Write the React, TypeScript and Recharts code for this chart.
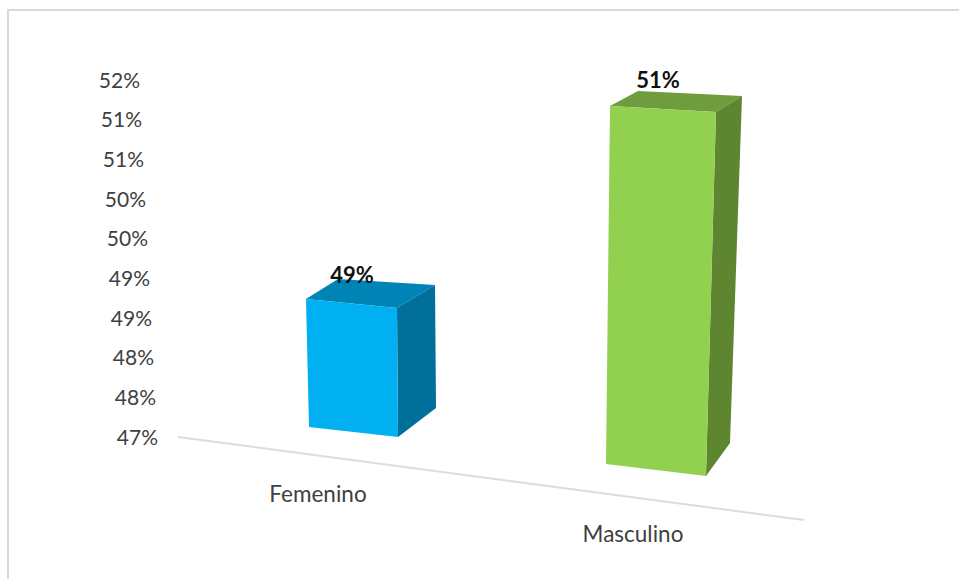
import { Bar, BarChart, LabelList, XAxis, YAxis } from "recharts";

const categories = ["Femenino", "Masculino"];
const percentages = [48.6, 51.45];
const yTicks = [47, 47.5, 48, 48.5, 49, 49.5, 50, 50.5, 51, 51.5];
const valueLabels = ["49%", "51%"];

const data = categories.map((name, i) => ({ name, value: percentages[i], label: valueLabels[i] }));

const FONT = "Lato, sans-serif";
const TEXT = "#404040";

// 3D look: how far each corner is pushed from the flat bar Recharts gives us
const looks = [
  {
    front: "#00b0f0",
    top: "#0084b5",
    side: "#006f9a",
    tl: [1, -11],
    tr: [-4, -2],
    br: [-3, 0],
    bl: [4, -10],
    backTl: [33, -31],
    backTr: [34, -25],
    backBr: [35, -29],
    labelDx: -1,
    labelDy: -36,
    tickDx: -35,
    tickDy: 0,
  },
  {
    front: "#92d050",
    top: "#6f9c3d",
    side: "#5e8530",
    tl: [3, 22],
    tr: [13, 28],
    br: [3, 39],
    bl: [-1, 27],
    backTl: [31, 7],
    backTr: [39, 12],
    backBr: [27, 6],
    labelDx: 3,
    labelDy: -4,
    tickDx: -22,
    tickDy: 40,
  },
];

function Box3D(props: any) {
  const { x, y, width, height, index } = props;
  const look = looks[index];
  const left = x;
  const right = x + width;
  const bottom = y + height;
  const pt = (bx: number, by: number, d: number[]) => `${bx + d[0]},${by + d[1]}`;
  const tl = pt(left, y, look.tl);
  const tr = pt(right, y, look.tr);
  const br = pt(right, bottom, look.br);
  const bl = pt(left, bottom, look.bl);
  const backTl = pt(left, y, look.backTl);
  const backTr = pt(right, y, look.backTr);
  const backBr = pt(right, bottom, look.backBr);
  return (
    <g>
      <polygon points={`${tl} ${tr} ${backTr} ${backTl}`} fill={look.top} />
      <polygon points={`${tr} ${backTr} ${backBr} ${br}`} fill={look.side} />
      <polygon points={`${tl} ${tr} ${br} ${bl}`} fill={look.front} />
    </g>
  );
}

function BarValue(props: any) {
  const { x, y, width, index, value } = props;
  const look = looks[index];
  return (
    <text
      x={x + width / 2 + look.labelDx}
      y={y + look.labelDy}
      textAnchor="middle"
      dominantBaseline="central"
      fontFamily={FONT}
      fontSize={22}
      fontWeight={700}
      fill="#111111"
    >
      {value}
    </text>
  );
}

function PercentTick(props: any) {
  const { y, payload } = props;
  // labels lean with the floor of the chart
  const x = 158 - ((437 - y) * 18) / 357;
  return (
    <text
      x={x}
      y={y - 1}
      textAnchor="end"
      dominantBaseline="central"
      fontFamily={FONT}
      fontSize={21}
      fill={TEXT}
    >
      {Math.round(payload.value)}%
    </text>
  );
}

function NameTick(props: any) {
  const { x, y, payload, index } = props;
  const look = looks[index];
  return (
    <text
      x={x + look.tickDx}
      y={y + look.tickDy}
      dy={48}
      textAnchor="middle"
      dominantBaseline="central"
      fontFamily={FONT}
      fontSize={22.5}
      fill={TEXT}
    >
      {payload.value}
    </text>
  );
}

export default function App() {
  return (
    <div style={{ position: "absolute", left: 0, top: 0, width: 959, height: 579, background: "#fff", overflow: "hidden" }}>
      <div
        style={{
          position: "absolute",
          left: 7,
          top: 9,
          width: 952,
          height: 570,
          boxSizing: "border-box",
          borderLeft: "2px solid #d9d9d9",
          borderTop: "2px solid #d9d9d9",
        }}
      />
      <div style={{ position: "absolute", left: 0, top: 0 }}>
        <BarChart
          width={959}
          height={579}
          data={data}
          margin={{ top: 80, right: 153, bottom: 112, left: 102 }}
        >
          <line x1={178} y1={437} x2={804} y2={520} stroke="#dcdcdc" strokeWidth={2} />
          <XAxis dataKey="name" height={30} axisLine={false} tickLine={false} tick={<NameTick />} interval={0} />
          <YAxis
            width={100}
            domain={[47, 51.5]}
            ticks={yTicks}
            interval={0}
            axisLine={false}
            tickLine={false}
            tick={<PercentTick />}
          />
          <Bar dataKey="value" barSize={96} isAnimationActive={false} shape={<Box3D />}>
            <LabelList dataKey="label" content={<BarValue />} />
          </Bar>
        </BarChart>
      </div>
    </div>
  );
}
